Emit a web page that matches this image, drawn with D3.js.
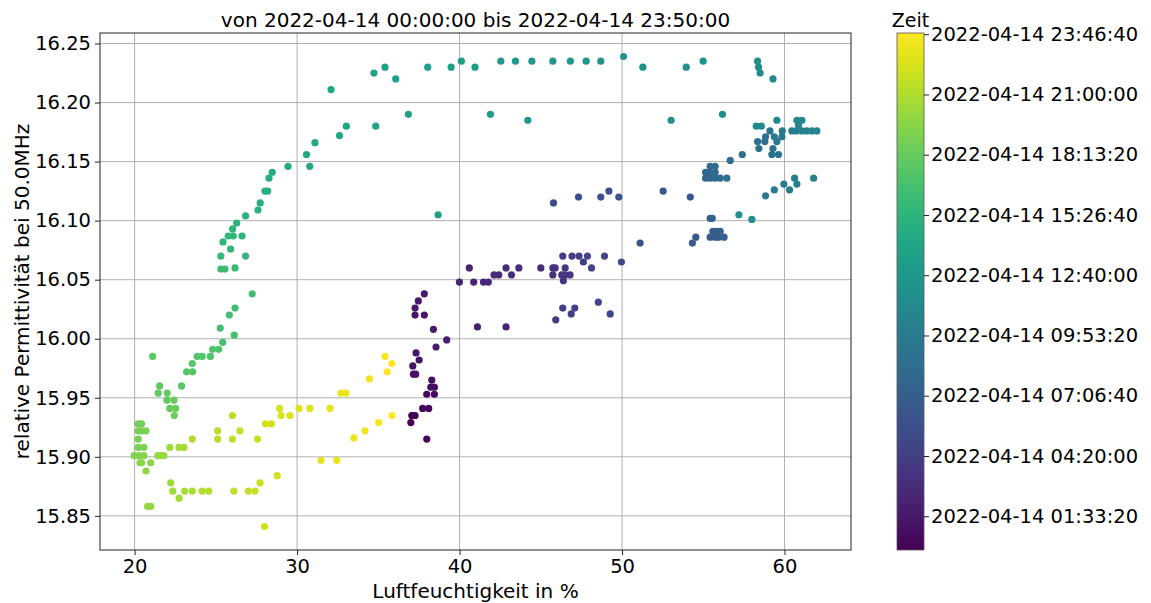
<!DOCTYPE html>
<html>
<head>
<meta charset="utf-8">
<script src="https://cdn.jsdelivr.net/npm/d3@7"></script>
<style>
  body { margin: 0; background: #fff; }
  svg { display: block; }
  text { font-family: "DejaVu Sans", sans-serif; fill: #000; }
</style>
</head>
<body>
<svg id="chart" width="1151" height="603"></svg>
<script>
// measurement times (2022-04-14), humidity in %, permittivity at 50 MHz
const times = [
  "00:00","00:05","00:10","00:15","00:20","00:25","00:30","00:35","00:40","00:45",
  "00:50","00:55","01:00","01:05","01:10","01:15","01:20","01:25","01:30","01:35",
  "01:40","01:45","01:50","01:55","02:05","02:15","02:20","02:25","02:30","02:35",
  "02:40","02:45","02:50","02:55","03:00","03:05","03:15","03:20","03:25","03:30",
  "03:35","03:40","03:45","03:50","03:55","04:00","04:10","04:15","04:20","04:25",
  "04:30","04:35","04:40","04:45","04:50","04:55","05:00","05:05","05:15","05:25",
  "05:35","05:45","05:50","05:55","06:05","06:15","06:25","06:35","06:40","06:50",
  "06:55","07:00","07:05","07:10","07:15","07:20","07:25","07:30","07:35","07:40",
  "07:45","07:50","07:55","08:00","08:05","08:10","08:15","08:20","08:25","08:35",
  "08:45","08:50","08:55","09:00","09:05","09:10","09:15","09:20","09:25","09:30",
  "09:35","09:40","09:45","09:50","09:55","10:00","10:05","10:10","10:15","10:20",
  "10:25","10:30","10:35","10:40","10:45","10:50","10:55","11:00","11:05","11:10",
  "11:15","11:20","11:25","11:30","11:35","11:40","11:45","11:50","11:55","12:00",
  "12:05","12:10","12:15","12:20","12:25","12:30","12:35","12:40","12:45","12:50",
  "12:55","13:00","13:05","13:10","13:15","13:20","13:25","13:30","13:35","13:40",
  "13:45","13:50","14:00","14:05","14:10","14:15","14:20","14:25","14:30","14:40",
  "14:45","14:50","14:55","15:00","15:05","15:15","15:20","15:25","15:30","15:35",
  "15:40","15:45","15:50","15:55","16:00","16:05","16:10","16:15","16:25","16:35",
  "16:40","16:45","16:50","16:55","17:00","17:05","17:10","17:15","17:20","17:25",
  "17:30","17:35","17:40","17:50","17:55","18:00","18:05","18:10","18:15","18:20",
  "18:25","18:30","18:35","18:40","18:45","18:50","18:55","19:00","19:05","19:10",
  "19:15","19:20","19:25","19:30","19:35","19:40","19:45","19:50","19:55","20:00",
  "20:05","20:10","20:15","20:20","20:25","20:30","20:35","20:40","20:45","20:50",
  "20:55","21:00","21:05","21:10","21:15","21:20","21:25","21:30","21:35","21:40",
  "21:45","21:50","21:55","22:00","22:05","22:10","22:15","22:20","22:25","22:30",
  "22:35","22:40","22:50","22:55","23:00","23:05","23:10","23:15","23:20","23:25",
  "23:30","23:35","23:40","23:45","23:50"
];

const humidity = [
  37.06,37.26,37.00,37.73,38.10,37.98,37.98,38.45,38.23,38.45,
  38.29,37.16,37.30,37.12,37.51,37.32,37.26,37.83,37.26,37.46,
  37.83,38.39,38.55,39.21,41.10,42.86,39.99,40.87,40.60,41.47,
  41.77,42.12,42.41,42.86,43.19,43.65,45.00,45.74,45.88,45.74,
  46.29,46.39,46.50,46.80,46.50,45.92,46.35,46.92,47.62,47.35,
  46.35,46.87,47.09,47.87,48.12,48.92,48.54,49.27,49.96,45.78,
  47.32,48.69,49.19,49.80,51.11,52.53,54.20,54.33,54.54,55.42,
  55.73,55.59,55.84,55.94,56.04,56.28,55.42,55.55,55.14,55.14,
  55.42,55.42,55.42,55.73,55.73,55.73,56.04,56.45,56.66,57.40,
  58.42,58.34,58.79,58.83,59.29,59.22,59.63,59.53,59.37,59.10,
  59.84,59.86,58.83,59.37,59.96,60.31,60.76,60.62,61.79,60.45,
  60.72,61.07,61.37,61.69,61.99,60.86,60.76,61.07,59.53,58.26,
  58.57,59.29,58.50,58.40,58.34,56.18,57.19,57.99,54.99,53.95,
  53.02,51.28,50.09,48.69,47.79,46.82,45.74,44.20,44.45,43.44,
  42.54,41.90,40.95,40.11,39.48,38.68,38.04,36.85,36.07,35.41,
  34.73,34.84,33.03,32.61,32.09,31.10,30.78,30.58,29.44,28.47,
  28.27,28.19,28.02,27.73,27.59,26.83,26.61,26.28,26.03,26.07,
  25.76,25.44,25.91,26.83,25.31,26.18,25.56,25.31,27.24,26.18,
  25.83,25.27,26.13,25.42,25.17,24.80,24.66,24.16,23.85,23.55,
  23.57,23.20,22.89,21.11,21.54,21.45,22.01,21.99,22.42,22.16,
  22.52,22.44,20.22,20.43,20.22,20.43,20.70,20.22,20.22,20.57,
  19.97,20.26,20.57,20.33,20.43,20.99,20.70,20.80,20.99,21.42,
  21.60,21.80,22.17,22.22,22.35,22.74,22.73,23.04,23.08,23.55,
  23.55,24.16,24.56,25.11,25.11,26.02,26.02,26.11,26.48,27.00,
  27.41,27.56,27.72,27.99,28.05,28.42,28.78,28.92,29.01,29.56,
  30.12,30.79,31.47,32.03,32.44,32.70,33.01,33.50,34.18,34.45,
  35.02,35.41,35.55,35.83,35.84
];

const permittivity = [
  15.935,15.935,15.929,15.941,15.941,15.915,15.953,15.953,15.959,15.959,
  15.965,15.970,15.970,15.977,15.982,15.988,16.020,16.020,16.026,16.032,
  16.038,16.008,15.993,15.999,16.010,16.010,16.048,16.048,16.060,16.048,
  16.048,16.054,16.054,16.060,16.054,16.060,16.060,16.060,16.060,16.054,
  16.054,16.049,16.054,16.054,16.060,16.016,16.070,16.070,16.065,16.070,
  16.026,16.021,16.026,16.070,16.060,16.070,16.031,16.021,16.065,16.115,
  16.120,16.120,16.125,16.120,16.081,16.125,16.120,16.081,16.086,16.086,
  16.086,16.091,16.091,16.086,16.091,16.086,16.102,16.102,16.136,16.141,
  16.136,16.141,16.146,16.136,16.141,16.146,16.136,16.136,16.151,16.156,
  16.161,16.167,16.167,16.171,16.161,16.156,16.156,16.167,16.171,16.176,
  16.171,16.176,16.121,16.126,16.131,16.126,16.131,16.136,16.136,16.176,
  16.176,16.176,16.176,16.176,16.176,16.181,16.185,16.185,16.185,16.180,
  16.180,16.220,16.225,16.230,16.235,16.190,16.105,16.101,16.235,16.230,
  16.185,16.230,16.239,16.235,16.235,16.235,16.235,16.185,16.235,16.235,
  16.235,16.190,16.230,16.235,16.230,16.105,16.230,16.190,16.220,16.230,
  16.225,16.180,16.180,16.172,16.211,16.166,16.146,16.156,16.146,16.141,
  16.136,16.125,16.125,16.115,16.109,16.104,16.087,16.098,16.093,16.087,
  16.087,16.082,16.076,16.070,16.070,16.060,16.059,16.059,16.038,16.026,
  16.020,16.009,16.003,15.997,15.991,15.991,15.985,15.985,15.985,15.979,
  15.972,15.972,15.960,15.985,15.960,15.954,15.954,15.948,15.948,15.941,
  15.941,15.935,15.928,15.928,15.922,15.922,15.922,15.915,15.908,15.908,
  15.901,15.901,15.901,15.895,15.895,15.895,15.888,15.858,15.858,15.901,
  15.901,15.901,15.908,15.878,15.871,15.865,15.908,15.908,15.871,15.871,
  15.915,15.871,15.871,15.922,15.915,15.935,15.915,15.871,15.922,15.871,
  15.871,15.915,15.878,15.841,15.928,15.928,15.884,15.941,15.935,15.935,
  15.941,15.941,15.897,15.941,15.897,15.954,15.954,15.916,15.922,15.966,
  15.929,15.985,15.972,15.979,15.935
];

const xTicks = [20, 30, 40, 50, 60];
const yTicks = [15.85, 15.90, 15.95, 16.00, 16.05, 16.10, 16.15, 16.20, 16.25];
const timeTicks = [
  "2022-04-14 01:33:20", "2022-04-14 04:20:00", "2022-04-14 07:06:40",
  "2022-04-14 09:53:20", "2022-04-14 12:40:00", "2022-04-14 15:26:40",
  "2022-04-14 18:13:20", "2022-04-14 21:00:00", "2022-04-14 23:46:40"
];
const title = "von 2022-04-14 00:00:00 bis 2022-04-14 23:50:00";

// seconds since midnight from "HH:MM" or "HH:MM:SS"
function toSeconds(t) {
  const p = t.split(":").map(Number);
  return p[0] * 3600 + p[1] * 60 + (p[2] || 0);
}

const points = times.map((t, i) => ({
  sec: toSeconds(t),
  hum: humidity[i],
  eps: permittivity[i],
}));

const svg = d3.select("#chart");
const plotLeft = 100, plotRight = 851, plotTop = 33, plotBottom = 550;
const tickFont = "19.5px";

// matplotlib-like 5% margins
function padded(ext) {
  const r = ext[1] - ext[0];
  return [ext[0] - 0.05 * r, ext[1] + 0.05 * r];
}

const x = d3.scaleLinear().domain(padded(d3.extent(humidity))).range([plotLeft, plotRight]);
const y = d3.scaleLinear().domain(padded(d3.extent(permittivity))).range([plotBottom, plotTop]);
const secExtent = d3.extent(points, (d) => d.sec);
const color = d3.scaleSequential(d3.interpolateViridis).domain(secExtent);

// grid
svg.append("g")
  .selectAll("line")
  .data(xTicks)
  .join("line")
  .attr("x1", (d) => x(d)).attr("x2", (d) => x(d))
  .attr("y1", plotTop).attr("y2", plotBottom)
  .attr("stroke", "#b0b0b0").attr("stroke-width", 1);

svg.append("g")
  .selectAll("line")
  .data(yTicks)
  .join("line")
  .attr("x1", plotLeft).attr("x2", plotRight)
  .attr("y1", (d) => y(d)).attr("y2", (d) => y(d))
  .attr("stroke", "#b0b0b0").attr("stroke-width", 1);

// points
svg.append("g")
  .selectAll("circle")
  .data(points)
  .join("circle")
  .attr("cx", (d) => x(d.hum))
  .attr("cy", (d) => y(d.eps))
  .attr("r", 3.6)
  .attr("fill", (d) => color(d.sec));

// frame
svg.append("rect")
  .attr("x", plotLeft).attr("y", plotTop)
  .attr("width", plotRight - plotLeft).attr("height", plotBottom - plotTop)
  .attr("fill", "none").attr("stroke", "#222").attr("stroke-width", 1);

// axes
const xAxis = svg.append("g")
  .attr("transform", `translate(0,${plotBottom})`)
  .call(d3.axisBottom(x).tickValues(xTicks).tickFormat(d3.format("d"))
    .tickSizeInner(5).tickSizeOuter(0).tickPadding(4));
const yAxis = svg.append("g")
  .attr("transform", `translate(${plotLeft},0)`)
  .call(d3.axisLeft(y).tickValues(yTicks).tickFormat(d3.format(".2f"))
    .tickSizeInner(5).tickSizeOuter(0).tickPadding(4));

[xAxis, yAxis].forEach((g) => {
  g.select(".domain").remove();
  g.selectAll("line").attr("stroke", "#222");
  g.selectAll("text").style("font-size", tickFont).style("font-family", "DejaVu Sans").attr("fill", "#000");
});

// labels
svg.append("text")
  .attr("x", (plotLeft + plotRight) / 2).attr("y", 27)
  .attr("text-anchor", "middle")
  .style("font-size", "20px")
  .text(title);

svg.append("text")
  .attr("x", (plotLeft + plotRight) / 2).attr("y", 598)
  .attr("text-anchor", "middle")
  .style("font-size", "20px")
  .text("Luftfeuchtigkeit in %");

svg.append("text")
  .attr("transform", `translate(29,${(plotTop + plotBottom) / 2}) rotate(-90)`)
  .attr("text-anchor", "middle")
  .style("font-size", "20px")
  .text("relative Permittivität bei 50.0MHz");

// colorbar
const cbX = 897, cbW = 27;
const cbY = d3.scaleLinear().domain(secExtent).range([plotBottom, plotTop]);

const grad = svg.append("defs").append("linearGradient")
  .attr("id", "viridis")
  .attr("x1", 0).attr("y1", 1).attr("x2", 0).attr("y2", 0);
grad.selectAll("stop")
  .data(d3.range(0, 1.0001, 0.05))
  .join("stop")
  .attr("offset", (d) => d)
  .attr("stop-color", (d) => d3.interpolateViridis(d));

svg.append("rect")
  .attr("x", cbX).attr("y", plotTop)
  .attr("width", cbW).attr("height", plotBottom - plotTop)
  .attr("fill", "url(#viridis)")
  .attr("stroke", "#555").attr("stroke-width", 0.8);

const cbAxis = svg.append("g")
  .attr("transform", `translate(${cbX + cbW},0)`)
  .call(d3.axisRight(cbY)
    .tickValues(timeTicks.map((t) => toSeconds(t.split(" ")[1])))
    .tickFormat((d, i) => timeTicks[i])
    .tickSizeInner(5).tickSizeOuter(0).tickPadding(2));
cbAxis.select(".domain").remove();
cbAxis.selectAll("line").attr("stroke", "#222");
cbAxis.selectAll("text").style("font-size", tickFont).style("font-family", "DejaVu Sans").attr("fill", "#000");

svg.append("text")
  .attr("x", cbX + cbW / 2).attr("y", 27)
  .attr("text-anchor", "middle")
  .style("font-size", "19px")
  .text("Zeit");
</script>
</body>
</html>
